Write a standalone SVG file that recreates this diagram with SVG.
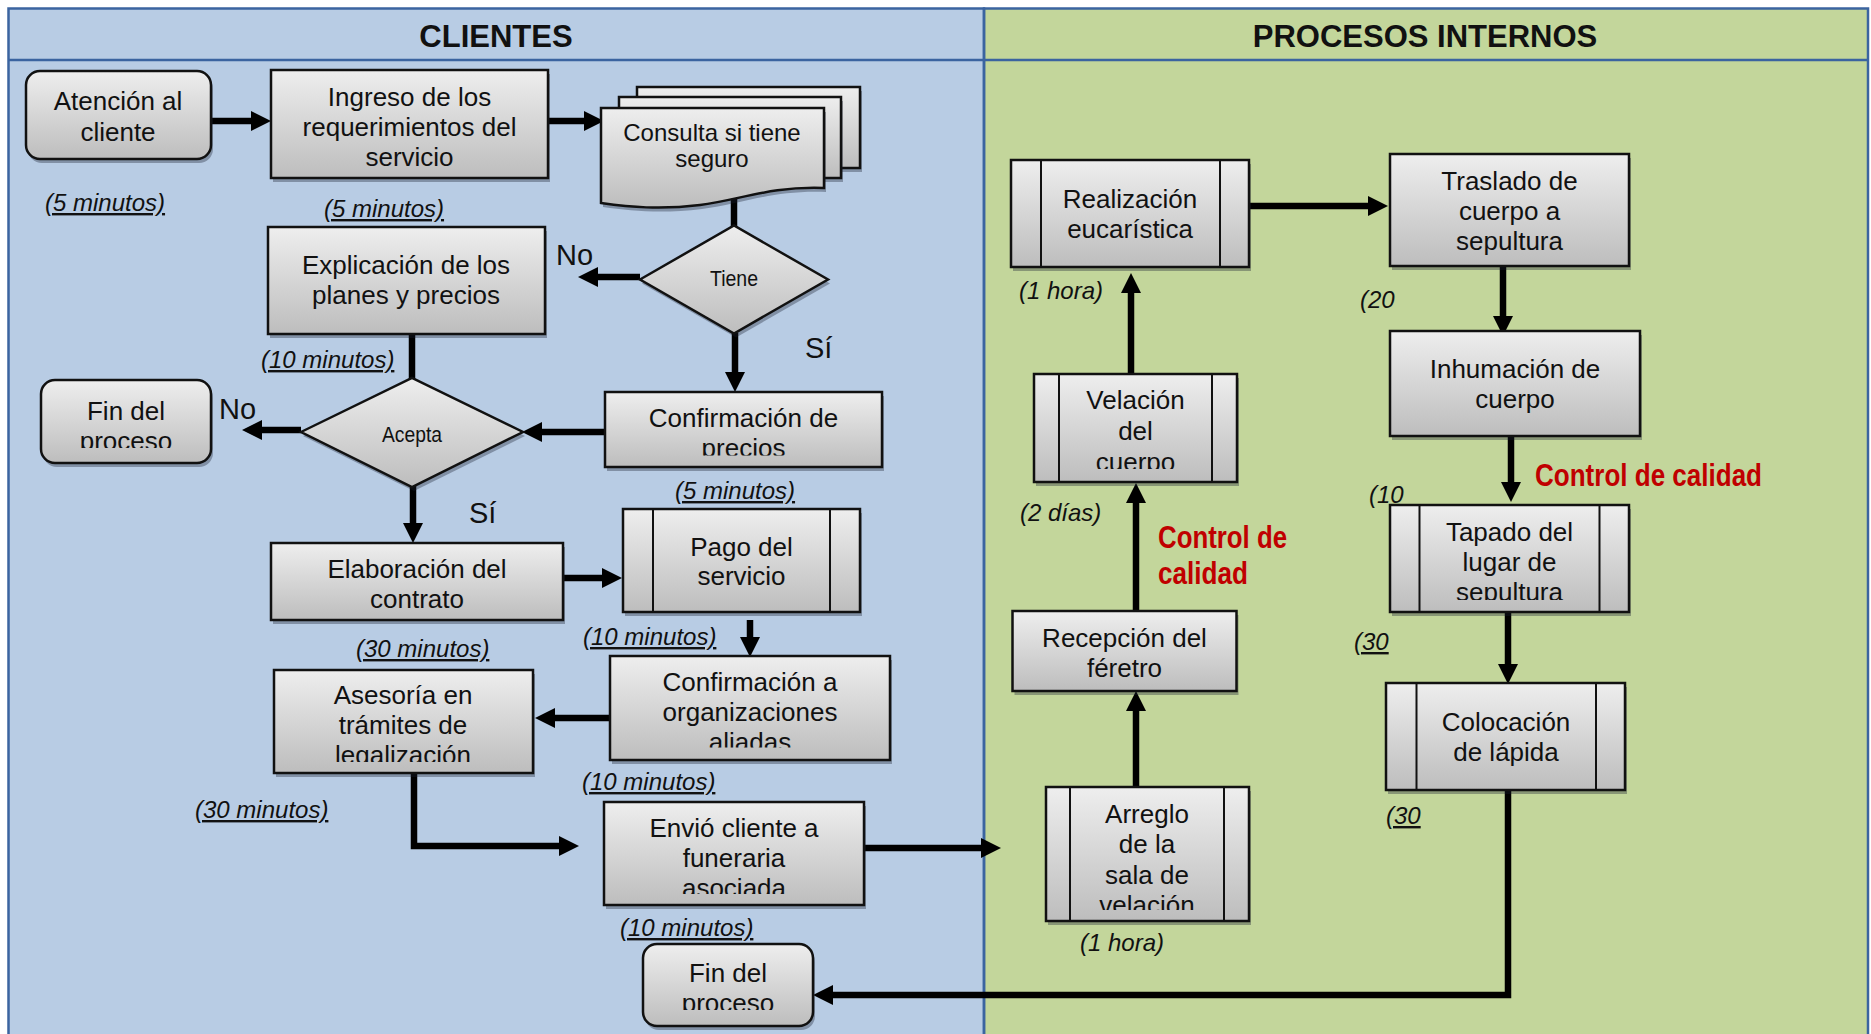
<svg xmlns="http://www.w3.org/2000/svg" width="1871" height="1034" viewBox="0 0 1871 1034">
<style>
.bg{fill:#FFFFFF}
.laneL{fill:#B8CCE4}
.laneR{fill:#C3D69B}
.lb{fill:none;stroke:#3B64A0;stroke-width:2.5}
.box{fill:url(#gr);stroke:#111;stroke-width:2.5}
.sh{fill:#1a2030;opacity:0.35}
.in{fill:none;stroke:#111;stroke-width:2}
.t{font-family:"Liberation Sans",Arial,Helvetica,sans-serif;font-size:26px;fill:#111;text-anchor:middle}
.t24{font-size:24px}
.dt{font-family:"Liberation Sans",Arial,Helvetica,sans-serif;font-size:22px;fill:#111;text-anchor:middle}
.lab{font-family:"Liberation Sans",Arial,Helvetica,sans-serif;font-size:29px;fill:#111}
.tm{font-family:"Liberation Sans",Arial,Helvetica,sans-serif;font-size:24px;font-style:italic;fill:#111}
.u{text-decoration:underline}
.red{font-family:"Liberation Sans",Arial,Helvetica,sans-serif;font-size:31.5px;font-weight:bold;fill:#C00000}
.hdr{font-family:"Liberation Sans",Arial,Helvetica,sans-serif;font-size:31px;font-weight:bold;fill:#111;text-anchor:middle}
.conn{fill:none;stroke:#000;stroke-width:6.5}
</style>
<defs>
<linearGradient id="gr" x1="0" y1="0" x2="0" y2="1">
<stop offset="0" stop-color="#EEEEEE"/>
<stop offset="1" stop-color="#BDBDBD"/>
</linearGradient>
<marker id="ah" markerUnits="userSpaceOnUse" markerWidth="20" markerHeight="20" viewBox="0 0 20 20" refX="0" refY="10" orient="auto">
<path d="M0,0 L20,10 L0,20 Z" fill="#000"/>
</marker>
<clipPath id="c7"><rect x="41" y="380" width="170" height="68"/></clipPath>
<clipPath id="c8"><rect x="605" y="392" width="277" height="63.5"/></clipPath>
<clipPath id="c11"><rect x="610" y="656" width="280" height="91.5"/></clipPath>
<clipPath id="c12"><rect x="274" y="670" width="259" height="92"/></clipPath>
<clipPath id="c13"><rect x="604" y="802" width="260" height="92"/></clipPath>
<clipPath id="c14"><rect x="643" y="944" width="170" height="66"/></clipPath>
<clipPath id="c18"><rect x="1390" y="505" width="239" height="95"/></clipPath>
<clipPath id="c20"><rect x="1034" y="374" width="203" height="95"/></clipPath>
<clipPath id="c22"><rect x="1046" y="787" width="203" height="123"/></clipPath>
</defs>

<rect class="bg" x="0" y="0" width="1871" height="1034"/>

<g id="lanes">
<rect class="laneL" x="8.5" y="8.5" width="975.5" height="1040"/>
<rect class="laneR" x="984" y="8.5" width="884" height="1040"/>
<rect class="lb" x="8.5" y="8.5" width="975.5" height="1040"/>
<rect class="lb" x="984" y="8.5" width="884" height="1040"/>
<line class="lb" x1="8.5" y1="60" x2="1868" y2="60"/>
<text class="hdr" x="496" y="47">CLIENTES</text>
<text class="hdr" x="1425" y="47">PROCESOS INTERNOS</text>
</g>

<g id="connectors">
<path class="conn" d="M211,121 H251" marker-end="url(#ah)"/>
<path class="conn" d="M548,121 H584" marker-end="url(#ah)"/>
<path class="conn" d="M734,195 V227"/>
<path class="conn" d="M640,277 H598" marker-end="url(#ah)"/>
<path class="conn" d="M735,333 V372" marker-end="url(#ah)"/>
<path class="conn" d="M412,334 V380"/>
<path class="conn" d="M605,432 H542" marker-end="url(#ah)"/>
<path class="conn" d="M301,430 H262" marker-end="url(#ah)"/>
<path class="conn" d="M413,486 V523" marker-end="url(#ah)"/>
<path class="conn" d="M563,578 H602" marker-end="url(#ah)"/>
<path class="conn" d="M750,620 V637" marker-end="url(#ah)"/>
<path class="conn" d="M610,718 H555" marker-end="url(#ah)"/>
<path class="conn" d="M414,773 V846 H559" marker-end="url(#ah)"/>
<path class="conn" d="M864,848 H981" marker-end="url(#ah)"/>
<path class="conn" d="M1136,787 V711" marker-end="url(#ah)"/>
<path class="conn" d="M1136,611 V503" marker-end="url(#ah)"/>
<path class="conn" d="M1131,374 V293" marker-end="url(#ah)"/>
<path class="conn" d="M1249,206 H1368" marker-end="url(#ah)"/>
<path class="conn" d="M1503,266 V316" marker-end="url(#ah)"/>
<path class="conn" d="M1511,433 V482" marker-end="url(#ah)"/>
<path class="conn" d="M1508,613 V664" marker-end="url(#ah)"/>
<path class="conn" d="M1508,790 V995 H833" marker-end="url(#ah)"/>
</g>

<g id="n-atencion">
<rect class="sh" x="28" y="75" width="185" height="88" rx="14"/>
<rect class="box" x="26" y="71" width="185" height="88" rx="14"/>
<text class="t" x="118" y="110">Atención al</text>
<text class="t" x="118" y="141">cliente</text>
</g>

<g id="n-ingreso">
<rect class="sh" x="273" y="74" width="277" height="108"/>
<rect class="box" x="271" y="70" width="277" height="108"/>
<text class="t" x="409.5" y="106">Ingreso de los</text>
<text class="t" x="409.5" y="136">requerimientos del</text>
<text class="t" x="409.5" y="166">servicio</text>
</g>

<g id="n-consulta">
<rect class="sh" x="639" y="91" width="223" height="81"/>
<rect class="box" x="637" y="87" width="223" height="81"/>
<rect class="sh" x="621" y="101" width="222" height="81"/>
<rect class="box" x="619" y="97" width="222" height="81"/>
<path class="sh" d="M603,112 H826 V192 C772,190 742,204 702,209 C662,214 632,211 603,207 Z"/>
<path class="box" d="M601,108 H824 V188 C770,186 740,200 700,205 C660,210 630,207 601,203 Z"/>
<text class="t t24" x="712" y="141">Consulta si tiene</text>
<text class="t t24" x="712" y="167">seguro</text>
</g>

<g id="n-tiene">
<polygon class="sh" points="642,283.5 736,229.5 830,283.5 736,337.5"/>
<polygon class="box" points="640,279.5 734,225.5 828,279.5 734,333.5"/>
<text class="dt" x="734" y="286" textLength="48" lengthAdjust="spacingAndGlyphs">Tiene</text>
</g>

<g id="n-explicacion">
<rect class="sh" x="270" y="231" width="277" height="107"/>
<rect class="box" x="268" y="227" width="277" height="107"/>
<text class="t" x="406" y="274">Explicación de los</text>
<text class="t" x="406" y="304">planes y precios</text>
</g>

<g id="n-acepta">
<polygon class="sh" points="303,436 414,382 525,436 414,491"/>
<polygon class="box" points="301,432 412,378 523,432 412,487"/>
<text class="dt" x="412" y="442" textLength="60" lengthAdjust="spacingAndGlyphs">Acepta</text>
</g>

<g id="n-fin1">
<rect class="sh" x="43" y="384" width="170" height="83" rx="14"/>
<rect class="box" x="41" y="380" width="170" height="83" rx="14"/>
<g clip-path="url(#c7)">
<text class="t" x="126" y="420">Fin del</text>
<text class="t" x="126" y="450">proceso</text>
</g>
</g>

<g id="n-confprecios">
<rect class="sh" x="607" y="396" width="277" height="75"/>
<rect class="box" x="605" y="392" width="277" height="75"/>
<g clip-path="url(#c8)">
<text class="t" x="743.5" y="427">Confirmación de</text>
<text class="t" x="743.5" y="457">precios</text>
</g>
</g>

<g id="n-elaboracion">
<rect class="sh" x="273" y="547" width="292" height="77"/>
<rect class="box" x="271" y="543" width="292" height="77"/>
<text class="t" x="417" y="578">Elaboración del</text>
<text class="t" x="417" y="608">contrato</text>
</g>

<g id="n-pago">
<rect class="sh" x="625" y="513" width="237" height="103"/>
<rect class="box" x="623" y="509" width="237" height="103"/>
<line class="in" x1="653" y1="509" x2="653" y2="612"/>
<line class="in" x1="830" y1="509" x2="830" y2="612"/>
<text class="t" x="741.5" y="556">Pago del</text>
<text class="t" x="741.5" y="585">servicio</text>
</g>

<g id="n-conforg">
<rect class="sh" x="612" y="660" width="280" height="104"/>
<rect class="box" x="610" y="656" width="280" height="104"/>
<g clip-path="url(#c11)">
<text class="t" x="750" y="691">Confirmación a</text>
<text class="t" x="750" y="721">organizaciones</text>
<text class="t" x="750" y="751">aliadas</text>
</g>
</g>

<g id="n-asesoria">
<rect class="sh" x="276" y="674" width="259" height="103"/>
<rect class="box" x="274" y="670" width="259" height="103"/>
<g clip-path="url(#c12)">
<text class="t" x="403" y="704">Asesoría en</text>
<text class="t" x="403" y="734">trámites de</text>
<text class="t" x="403" y="764">legalización</text>
</g>
</g>

<g id="n-envio">
<rect class="sh" x="606" y="806" width="260" height="103"/>
<rect class="box" x="604" y="802" width="260" height="103"/>
<g clip-path="url(#c13)">
<text class="t" x="734" y="837">Envió cliente a</text>
<text class="t" x="734" y="867">funeraria</text>
<text class="t" x="734" y="897">asociada</text>
</g>
</g>

<g id="n-fin2">
<rect class="sh" x="645" y="948" width="170" height="82" rx="14"/>
<rect class="box" x="643" y="944" width="170" height="82" rx="14"/>
<g clip-path="url(#c14)">
<text class="t" x="728" y="982">Fin del</text>
<text class="t" x="728" y="1012">proceso</text>
</g>
</g>

<g id="n-realizacion">
<rect class="sh" x="1013" y="164" width="238" height="107"/>
<rect class="box" x="1011" y="160" width="238" height="107"/>
<line class="in" x1="1041" y1="160" x2="1041" y2="267"/>
<line class="in" x1="1220" y1="160" x2="1220" y2="267"/>
<text class="t" x="1130" y="208">Realización</text>
<text class="t" x="1130" y="238">eucarística</text>
</g>

<g id="n-traslado">
<rect class="sh" x="1392" y="158" width="239" height="112"/>
<rect class="box" x="1390" y="154" width="239" height="112"/>
<text class="t" x="1509.5" y="190">Traslado de</text>
<text class="t" x="1509.5" y="220">cuerpo a</text>
<text class="t" x="1509.5" y="250">sepultura</text>
</g>

<g id="n-inhumacion">
<rect class="sh" x="1392" y="335" width="250" height="105"/>
<rect class="box" x="1390" y="331" width="250" height="105"/>
<text class="t" x="1515" y="378">Inhumación de</text>
<text class="t" x="1515" y="408">cuerpo</text>
</g>

<g id="n-tapado">
<rect class="sh" x="1392" y="509" width="239" height="107"/>
<rect class="box" x="1390" y="505" width="239" height="107"/>
<line class="in" x1="1419.5" y1="505" x2="1419.5" y2="612"/>
<line class="in" x1="1599.5" y1="505" x2="1599.5" y2="612"/>
<g clip-path="url(#c18)">
<text class="t" x="1509.5" y="541">Tapado del</text>
<text class="t" x="1509.5" y="571">lugar de</text>
<text class="t" x="1509.5" y="601">sepultura</text>
</g>
</g>

<g id="n-colocacion">
<rect class="sh" x="1388" y="687" width="239" height="107"/>
<rect class="box" x="1386" y="683" width="239" height="107"/>
<line class="in" x1="1416.5" y1="683" x2="1416.5" y2="790"/>
<line class="in" x1="1596" y1="683" x2="1596" y2="790"/>
<text class="t" x="1506" y="731">Colocación</text>
<text class="t" x="1506" y="761">de lápida</text>
</g>

<g id="n-velacion">
<rect class="sh" x="1036" y="378" width="203" height="108"/>
<rect class="box" x="1034" y="374" width="203" height="108"/>
<line class="in" x1="1059" y1="374" x2="1059" y2="482"/>
<line class="in" x1="1212" y1="374" x2="1212" y2="482"/>
<g clip-path="url(#c20)">
<text class="t" x="1135.5" y="409">Velación</text>
<text class="t" x="1135.5" y="440">del</text>
<text class="t" x="1135.5" y="471">cuerpo</text>
</g>
</g>

<g id="n-recepcion">
<rect class="sh" x="1014.5" y="615" width="224" height="80"/>
<rect class="box" x="1012.5" y="611" width="224" height="80"/>
<text class="t" x="1124.5" y="647">Recepción del</text>
<text class="t" x="1124.5" y="677">féretro</text>
</g>

<g id="n-arreglo">
<rect class="sh" x="1048" y="791" width="203" height="134"/>
<rect class="box" x="1046" y="787" width="203" height="134"/>
<line class="in" x1="1070" y1="787" x2="1070" y2="921"/>
<line class="in" x1="1224" y1="787" x2="1224" y2="921"/>
<g clip-path="url(#c22)">
<text class="t" x="1147" y="823">Arreglo</text>
<text class="t" x="1147" y="853">de la</text>
<text class="t" x="1147" y="883.5">sala de</text>
<text class="t" x="1147" y="913.5">velación</text>
</g>
</g>

<g id="labels">
<text class="lab" x="556" y="265">No</text>
<text class="lab" x="805" y="358">Sí</text>
<text class="lab" x="219" y="419">No</text>
<text class="lab" x="469" y="523">Sí</text>
<text class="tm u" x="45" y="211">(5 minutos)</text>
<text class="tm u" x="324" y="217">(5 minutos)</text>
<text class="tm u" x="261" y="368">(10 minutos)</text>
<text class="tm u" x="675" y="499">(5 minutos)</text>
<text class="tm u" x="356" y="657">(30 minutos)</text>
<text class="tm u" x="583" y="645">(10 minutos)</text>
<text class="tm u" x="582" y="790">(10 minutos)</text>
<text class="tm u" x="195" y="818">(30 minutos)</text>
<text class="tm u" x="620" y="936">(10 minutos)</text>
<text class="tm" x="1019" y="299">(1 hora)</text>
<text class="tm" x="1360" y="308">(20</text>
<text class="tm" x="1369" y="503">(10</text>
<text class="tm" x="1020" y="521">(2 días)</text>
<text class="tm u" x="1354" y="650">(30</text>
<text class="tm u" x="1386" y="824">(30</text>
<text class="tm" x="1080" y="951">(1 hora)</text>
<text class="red" x="1535" y="485.5" textLength="227" lengthAdjust="spacingAndGlyphs">Control de calidad</text>
<text class="red" x="1158" y="547.5" textLength="129" lengthAdjust="spacingAndGlyphs">Control de</text>
<text class="red" x="1158" y="584" textLength="90" lengthAdjust="spacingAndGlyphs">calidad</text>
</g>
</svg>
